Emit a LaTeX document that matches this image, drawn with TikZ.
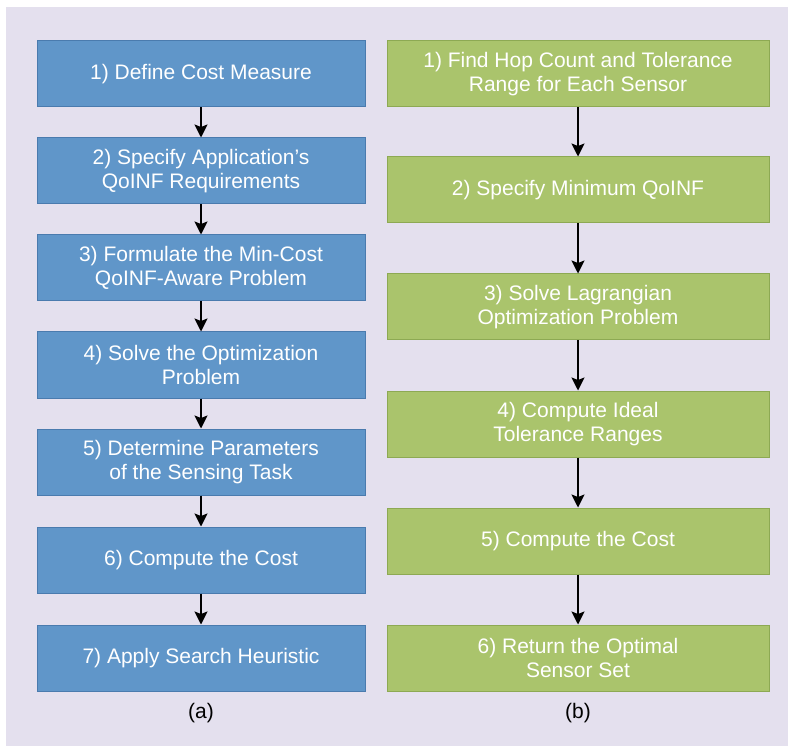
\documentclass[tikz,border=0pt]{standalone}
\usepackage{fontspec}
\setmainfont{Liberation Sans}
\usetikzlibrary{arrows.meta}
\definecolor{bgpanel}{HTML}{E4E0EE}
\definecolor{bluefill}{HTML}{6096C9}
\definecolor{blueline}{HTML}{4A7BAE}
\definecolor{greenfill}{HTML}{AAC46C}
\definecolor{greenline}{HTML}{8DA953}
\begin{document}
\begin{tikzpicture}[x=1pt,y=-1pt,line width=1.4pt,
  every node/.style = {align=center,text=white,
    font=\fontsize{21}{24.5}\selectfont,line width=1pt},
  bluebox/.style = {draw=blueline,fill=bluefill,
    minimum width=328pt,minimum height=66pt},
  greenbox/.style = {draw=greenline,fill=greenfill,
    minimum width=382pt,minimum height=66pt},
  flow/.style = {-{Stealth[length=13pt,width=13pt,inset=2.5pt]}}]
   \useasboundingbox (0,0) rectangle (788,746);
   \fill[bgpanel] (6,7) rectangle (788,746);
   % (a)
   \node[bluebox] (a1) at (201,74)  {1) Define Cost Measure};
   \node[bluebox] (a2) at (201,171) {2) Specify Application's\\QoINF Requirements};
   \node[bluebox] (a3) at (201,268) {3) Formulate the Min-Cost\\QoINF-Aware Problem};
   \node[bluebox] (a4) at (201,365) {4) Solve the Optimization\\Problem};
   \node[bluebox] (a5) at (201,462) {5) Determine Parameters\\of the Sensing Task};
   \node[bluebox] (a6) at (201,560) {6) Compute the Cost};
   \node[bluebox] (a7) at (201,658) {7) Apply Search Heuristic};
   \draw[flow] (a1) -- (a2);
   \draw[flow] (a2) -- (a3);
   \draw[flow] (a3) -- (a4);
   \draw[flow] (a4) -- (a5);
   \draw[flow] (a5) -- (a6);
   \draw[flow] (a6) -- (a7);
   % (b)
   \node[greenbox] (b1) at (578,74)  {1) Find Hop Count and Tolerance\\Range for Each Sensor};
   \node[greenbox] (b2) at (578,190) {2) Specify Minimum QoINF};
   \node[greenbox] (b3) at (578,307) {3) Solve Lagrangian\\Optimization Problem};
   \node[greenbox] (b4) at (578,424) {4) Compute Ideal\\Tolerance Ranges};
   \node[greenbox] (b5) at (578,541) {5) Compute the Cost};
   \node[greenbox] (b6) at (578,658) {6) Return the Optimal\\Sensor Set};
   \draw[flow] (b1) -- (b2);
   \draw[flow] (b2) -- (b3);
   \draw[flow] (b3) -- (b4);
   \draw[flow] (b4) -- (b5);
   \draw[flow] (b5) -- (b6);
   % captions
   \node[text=black] (capa) at (201,713) {(a)};
   \node[text=black] (capb) at (578,713) {(b)};
\end{tikzpicture}
\end{document}
